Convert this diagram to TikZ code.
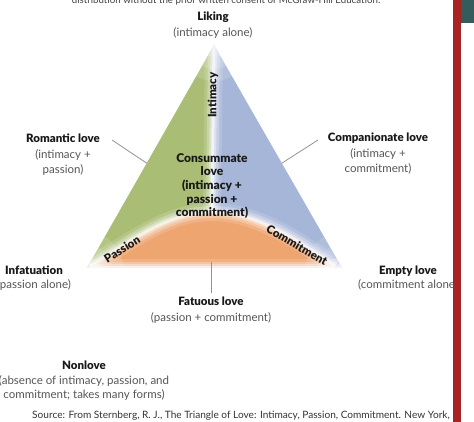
\documentclass[tikz,border=0pt]{standalone}
\usepackage{fontspec}
\setmainfont{Lato}
\IfFontExistsTF{Lato Black}{\newfontfamily\heavyfont{Lato Black}}{\newcommand{\heavyfont}{\bfseries}}
\usepackage{xcolor}
\usepackage{tikz}
\usetikzlibrary{positioning, calc}

\definecolor{lovegreen}{RGB}{170,189,116}
\definecolor{loveblue}{RGB}{166,182,216}
\definecolor{loveorange}{RGB}{238,165,112}
\definecolor{subgray}{RGB}{85,85,85}
\definecolor{barred}{RGB}{168,36,34}
\definecolor{barteal}{RGB}{52,92,92}
\newcommand{\ttl}[1]{{\heavyfont\color{black!90}#1}}

\begin{document}
\begin{tikzpicture}[x=1pt, y=-1pt,
    every node/.style={inner sep=0pt},
    lbl/.style={align=center, text=subgray, font=\fontsize{11.5}{15.5}\selectfont},
    side/.style={text=black!90, font=\heavyfont\fontsize{11.5}{13}\selectfont},
    pointer/.style={gray!85, line width=0.8pt}]
    \useasboundingbox (0,0) rectangle (474,422);

    % Triangle corners
    \coordinate (A) at (214,45);
    \coordinate (L) at (87,268);
    \coordinate (R) at (342,268);
    \coordinate (M) at (212,212);

    % Coloured areas
    \begin{scope}
        \clip (A) -- (L) -- (R) -- cycle;
        \fill[lovegreen] (0,0) rectangle (211,300);
        \fill[loveblue] (211,0) rectangle (474,300);
        \fill[loveorange] (L) -- (90,266) .. controls (135,238) and (170,212) .. (M)
            .. controls (255,212) and (295,238) .. (335,266) -- (R) -- cycle;
        % soft white borders
        \foreach \w/\o in {18/0.15, 12/0.25, 7/0.35, 3/0.6} {
            \draw[white, line width=\w pt, opacity=\o] (A) -- (M);
            \draw[white, line width=\w pt, opacity=\o] (90,266) .. controls (135,238) and (170,212) .. (M)
                .. controls (255,212) and (295,238) .. (335,266);
            \draw[white, line width=\w pt, opacity=\o] (L) -- (R);
        }
        \foreach \r in {12,24,36} {
            \fill[white, opacity=0.15] (A) circle (\r);
            \fill[white, opacity=0.12] (L) circle (\r);
            \fill[white, opacity=0.12] (R) circle (\r);
        }
    \end{scope}

    % Side names
    \node[side, rotate=90] (intimacy) at (213,95) {Intimacy};
    \node[side, rotate=32] (passion) at (122,249) {Passion};
    \node[side, rotate=-30] (commit) at (297,245) {Commitment};

    % Centre
    \node[align=center, text=black!90, font=\heavyfont\fontsize{12}{13.7}\selectfont]
        (consum) at (212,186) {Consummate\\love\\(intimacy +\\passion +\\commitment)};

    % Outer labels
    \node[lbl] (liking) at (213,25) {\ttl{Liking}\\(intimacy alone)};
    \node[lbl] (romantic) at (63,155) {\ttl{Romantic love}\\(intimacy +\\passion)};
    \node[lbl] (companion) at (378,154) {\ttl{Companionate love}\\(intimacy +\\commitment)};
    \node[lbl, font=\fontsize{11.5}{14.5}\selectfont] (infat) at (34,278) {\ttl{Infatuation}\\(passion alone)};
    \node[lbl, font=\fontsize{11.5}{14.5}\selectfont] (empty) at (408,278) {\ttl{Empty love}\\(commitment alone)};
    \node[lbl] (fatuous) at (211,310) {\ttl{Fatuous love}\\(passion + commitment)};
    \node[lbl, font=\fontsize{11.5}{14.5}\selectfont] (nonlove) at (84,381)
        {\ttl{Nonlove}\\(absence of intimacy, passion, and\\commitment; takes many forms)};

    % Pointers
    \coordinate (rl) at (112,140);
    \coordinate (rs) at ($(L)!0.47!(A)$);
    \coordinate (cl) at (318,140);
    \coordinate (cs) at ($(R)!0.47!(A)$);
    \coordinate (fl) at (211,262);
    \coordinate (fs) at (211,293);
    \draw[pointer] (rl) -- (rs);
    \draw[pointer] (cl) -- (cs);
    \draw[pointer] (fl) -- (fs);

    % Page texts
    \node[text=black!75, font=\fontsize{9.7}{11}\selectfont] (consent) at (226,0.5)
        {distribution without the prior written consent of McGraw-Hill Education.};
    \node[text=black!80, font=\fontsize{10.1}{12}\selectfont] (source) at (241,416)
        {Source: From Sternberg, R. J., The Triangle of Love: Intimacy, Passion, Commitment. New York,};

    % Page edge
    \fill[barred] (453,0) rectangle (461,422);
    \fill[barteal] (461,0) rectangle (474,23);
\end{tikzpicture}
\end{document}
